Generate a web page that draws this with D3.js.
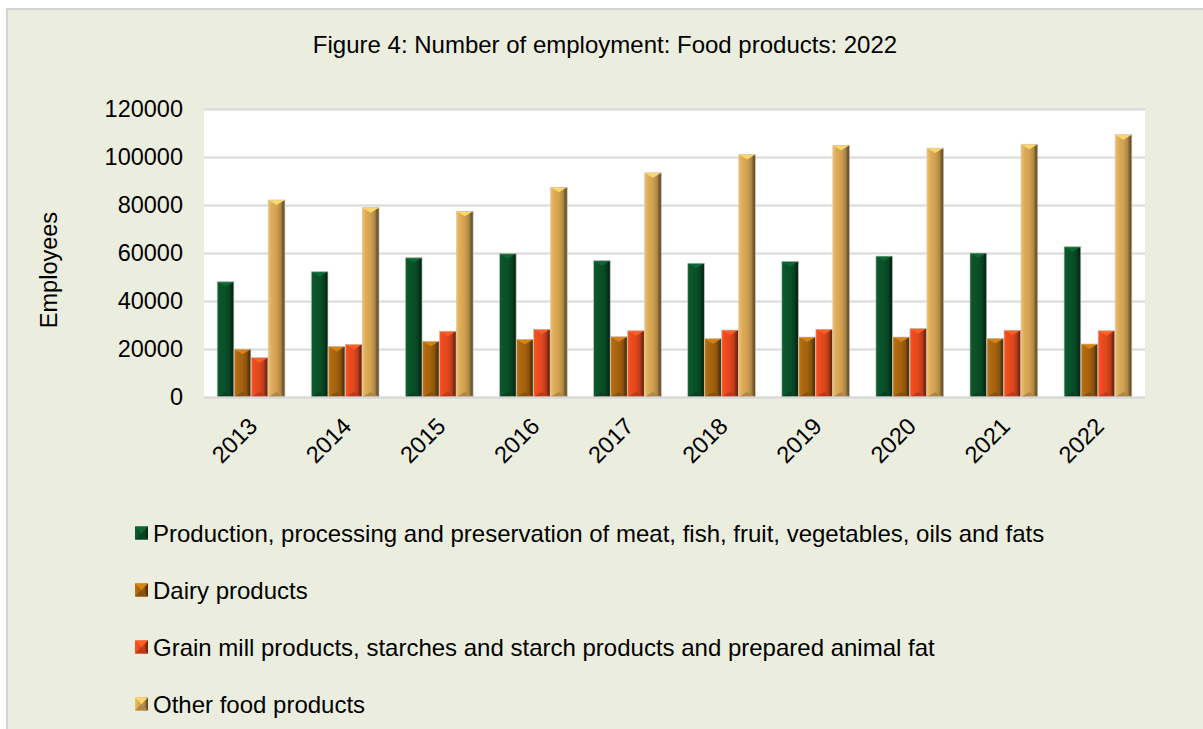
<!DOCTYPE html>
<html>
<head>
<meta charset="utf-8">
<script src="https://cdn.jsdelivr.net/npm/d3@7"></script>
<style>
  html, body { margin: 0; padding: 0; background: #ffffff; }
  svg { display: block; font-family: Arial, "Liberation Sans", sans-serif; }
</style>
</head>
<body>
<svg id="chart" width="1203" height="729"></svg>
<script>
// Employment in food product manufacturing, 2013–2022
const years = ["2013", "2014", "2015", "2016", "2017", "2018", "2019", "2020", "2021", "2022"];
const seriesNames = [
  "Production, processing and preservation of meat, fish, fruit, vegetables, oils and fats",
  "Dairy products",
  "Grain mill products, starches and starch products and prepared animal fat",
  "Other food products"
];
const meatFishFruit = [48000, 52200, 58000, 59700, 56800, 55700, 56500, 58700, 60000, 62600];
const dairy         = [19900, 21000, 23200, 24000, 25100, 24300, 25000, 25000, 24400, 22100];
const grainMill     = [16400, 21900, 27400, 28200, 27600, 27900, 28200, 28500, 27800, 27600];
const otherFood     = [82100, 78900, 77400, 87400, 93400, 101000, 104900, 103700, 105300, 109300];
const yTicks = [0, 20000, 40000, 60000, 80000, 100000, 120000];
const seriesColors = ["#0a4f27", "#a3620f", "#df471d", "#d1a152"];

const seriesValues = [meatFishFruit, dairy, grainMill, otherFood];

const svg = d3.select("#chart");
const W = 1203, H = 729;
const plot = { left: 204, right: 1145, top: 109, bottom: 397 };
const font = "23.5px";

// Chart area background with a thin frame on the top and left
svg.append("rect").attr("x", 7).attr("y", 9).attr("width", W).attr("height", H)
  .attr("fill", "#ebeedf").attr("stroke", "#d4d4d4").attr("stroke-width", 2);

// Title
svg.append("text").attr("x", 605).attr("y", 53).attr("text-anchor", "middle")
  .style("font-size", "24px").attr("fill", "#000")
  .text("Figure 4: Number of employment: Food products: 2022");

// Scales
const y = d3.scaleLinear().domain([0, 120000]).range([plot.bottom, plot.top]);
const x0 = d3.scaleBand().domain(years).range([plot.left, plot.right])
  .paddingInner(0.273).paddingOuter(0.1365);
const x1 = d3.scaleBand().domain(d3.range(seriesNames.length)).range([0, x0.bandwidth()]).padding(0.02);

// Plot area
svg.append("rect").attr("x", plot.left).attr("y", plot.top)
  .attr("width", plot.right - plot.left).attr("height", plot.bottom - plot.top)
  .attr("fill", "#ffffff");

// Gridlines and y axis labels
const yAxis = d3.axisLeft(y).tickValues(yTicks).tickSize(-(plot.right - plot.left)).tickPadding(21)
  .tickFormat(d3.format("d"));
const gy = svg.append("g").attr("transform", `translate(${plot.left},0)`).call(yAxis);
gy.select(".domain").remove();
gy.selectAll(".tick line").attr("stroke", "#d9d9d9").attr("stroke-width", 2);
gy.selectAll(".tick text").style("font-size", font).attr("fill", "#000")
  .attr("font-family", "Arial, 'Liberation Sans', sans-serif");

// Y axis title
svg.append("text").attr("transform", "translate(57,270) rotate(-90)")
  .attr("text-anchor", "middle").style("font-size", font).attr("fill", "#000")
  .text("Employees");

// Gradients for the bevelled bar faces
const defs = svg.append("defs");
seriesColors.forEach((c, i) => {
  const base = d3.color(c);
  const g = defs.append("linearGradient").attr("id", "face" + i)
    .attr("x1", "0%").attr("x2", "100%").attr("y1", "0%").attr("y2", "0%");
  g.append("stop").attr("offset", "0%").attr("stop-color", base.brighter(0.5));
  g.append("stop").attr("offset", "18%").attr("stop-color", base.brighter(0.2));
  g.append("stop").attr("offset", "50%").attr("stop-color", base);
  g.append("stop").attr("offset", "75%").attr("stop-color", base.darker(0.5));
  g.append("stop").attr("offset", "85%").attr("stop-color", base.darker(1.4));
  g.append("stop").attr("offset", "100%").attr("stop-color", base.darker(2.2));
});

// Bars
const bevel = 5;
const groups = svg.append("g").selectAll("g").data(years).join("g")
  .attr("transform", d => `translate(${x0(d)},0)`);

groups.each(function (year, yi) {
  const g = d3.select(this);
  seriesValues.forEach((vals, si) => {
    const v = vals[yi];
    const bx = x1(si), bw = x1.bandwidth();
    const by = y(v), bh = y(0) - y(v);
    const base = d3.color(seriesColors[si]);
    const bar = g.append("g");
    bar.append("rect").attr("x", bx).attr("y", by).attr("width", bw).attr("height", bh)
      .attr("fill", `url(#face${si})`);
    // top bevel
    bar.append("path")
      .attr("d", `M${bx},${by}L${bx + bw},${by}L${bx + bw / 2},${by + bevel}Z`)
      .attr("fill", base.brighter(0.8));
    // bottom bevel
    bar.append("path")
      .attr("d", `M${bx},${by + bh}L${bx + bw},${by + bh}L${bx + bw / 2},${by + bh - bevel}Z`)
      .attr("fill", base.darker(0.5));
    // outline
    bar.append("rect").attr("x", bx).attr("y", by).attr("width", bw).attr("height", bh)
      .attr("fill", "none").attr("stroke", "#c8c8c0").attr("stroke-width", 0.8).attr("stroke-opacity", 0.8);
  });
});

// Horizontal axis line
svg.append("line").attr("x1", plot.left).attr("x2", plot.right)
  .attr("y1", plot.bottom + 0.5).attr("y2", plot.bottom + 0.5)
  .attr("stroke", "#d9d9d9").attr("stroke-width", 2);

// Rotated year labels
svg.append("g").selectAll("text").data(years).join("text")
  .attr("transform", d => `translate(${x0(d) + x0.bandwidth() / 2 - 4},${plot.bottom + 19}) rotate(-45)`)
  .attr("text-anchor", "end").attr("dy", "0.7em").style("font-size", font).attr("fill", "#000")
  .text(d => d);

// Legend
const legend = svg.append("g").selectAll("g").data(seriesNames).join("g")
  .attr("transform", (d, i) => `translate(135,${533 + i * 57})`);
legend.append("rect").attr("x", 0).attr("y", -6.5).attr("width", 13).attr("height", 13)
  .attr("fill", (d, i) => `url(#face${i})`);
legend.append("path")
  .attr("d", "M0,-6.5L13,-6.5L6.5,0Z").attr("fill", (d, i) => d3.color(seriesColors[i]).brighter(0.8));
legend.append("path")
  .attr("d", "M0,6.5L13,6.5L6.5,0Z").attr("fill", (d, i) => d3.color(seriesColors[i]).darker(0.5));
legend.append("text").attr("x", 18).attr("dy", "0.36em").style("font-size", "24px").attr("fill", "#000")
  .text(d => d);
</script>
</body>
</html>
